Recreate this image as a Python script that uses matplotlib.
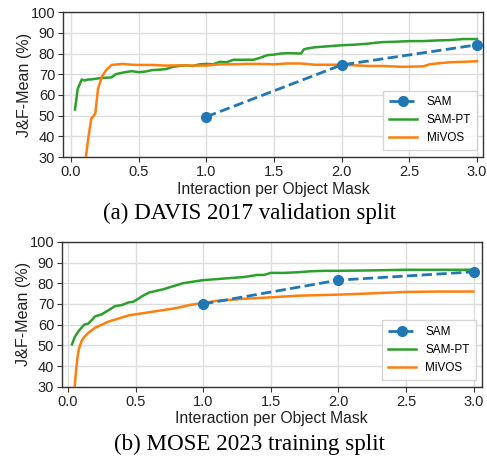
import matplotlib
matplotlib.use("Agg")
import matplotlib.pyplot as plt

# ---- Data: DAVIS 2017 validation ----
davis_sam_x = [1.0, 2.0, 3.0]
davis_sam_y = [49.5, 74.5, 84.2]
davis_pt_x = [0.03, 0.05, 0.08, 0.10, 0.13, 0.15, 0.18, 0.20, 0.25, 0.30, 0.33, 0.36, 0.40, 0.45, 0.50,
              0.55, 0.60, 0.65, 0.70, 0.75, 0.80, 0.85, 0.90, 0.95, 1.00, 1.05, 1.10, 1.15, 1.20,
              1.30, 1.35, 1.40, 1.45, 1.50, 1.55, 1.60, 1.70, 1.72, 1.75, 1.80, 1.90, 2.00, 2.10,
              2.20, 2.25, 2.30, 2.40, 2.50, 2.60, 2.70, 2.80, 2.90, 3.00]
davis_pt_y = [53.0, 63.0, 67.5, 67.0, 67.5, 67.5, 67.8, 68.0, 68.3, 68.5, 70.0, 70.5, 71.0, 71.5, 71.0,
              71.3, 72.0, 72.2, 72.5, 73.5, 74.0, 74.3, 74.0, 74.8, 75.0, 74.8, 76.0, 75.8, 77.0,
              77.0, 77.0, 78.0, 79.2, 79.5, 80.0, 80.2, 80.0, 82.0, 82.5, 83.0, 83.5, 84.0, 84.3,
              84.8, 85.2, 85.5, 85.7, 86.0, 86.0, 86.3, 86.5, 87.0, 87.0]
davis_mivos_x = [0.11, 0.13, 0.15, 0.18, 0.20, 0.23, 0.26, 0.30, 0.35, 0.38, 0.45, 0.50, 0.60, 0.70,
                 0.80, 0.90, 1.00, 1.10, 1.20, 1.30, 1.40, 1.50, 1.60, 1.70, 1.80, 1.90, 2.00,
                 2.10, 2.20, 2.30, 2.45, 2.60, 2.65, 2.70, 2.80, 2.90, 3.00]
davis_mivos_y = [30.0, 40.0, 48.5, 51.0, 63.0, 69.0, 72.0, 74.5, 74.8, 75.0, 74.6, 74.5, 74.5, 74.2,
                 74.3, 74.2, 74.2, 74.8, 74.8, 75.0, 75.0, 74.8, 75.2, 75.2, 74.6, 74.6, 74.6,
                 74.3, 74.0, 74.0, 73.6, 73.8, 74.8, 75.2, 75.8, 76.0, 76.3]

# ---- Data: MOSE 2023 training ----
mose_sam_x = [1.0, 2.0, 3.0]
mose_sam_y = [70.0, 81.5, 85.5]
mose_pt_x = [0.03, 0.05, 0.08, 0.10, 0.12, 0.15, 0.18, 0.20, 0.25, 0.30, 0.35, 0.40, 0.45, 0.48,
             0.52, 0.55, 0.60, 0.65, 0.70, 0.75, 0.80, 0.85, 0.90, 0.95, 1.00, 1.10, 1.20, 1.30,
             1.35, 1.40, 1.45, 1.50, 1.60, 1.70, 1.80, 1.90, 2.00, 2.25, 2.50, 2.75, 3.00]
mose_pt_y = [50.5, 54.0, 57.0, 58.5, 60.0, 60.5, 62.5, 64.0, 65.0, 67.0, 69.0, 69.5, 70.8, 71.0,
             72.5, 73.8, 75.5, 76.3, 77.0, 78.0, 79.0, 80.0, 80.5, 81.0, 81.5, 82.0, 82.5, 83.0,
             83.5, 84.0, 84.0, 85.0, 85.0, 85.3, 85.8, 86.0, 86.0, 86.2, 86.5, 86.5, 86.5]
mose_mivos_x = [0.05, 0.06, 0.07, 0.08, 0.10, 0.12, 0.15, 0.18, 0.20, 0.25, 0.30, 0.35, 0.40, 0.45,
                0.50, 0.55, 0.60, 0.70, 0.80, 0.90, 1.00, 1.10, 1.20, 1.30, 1.50, 1.70, 2.00,
                2.20, 2.50, 2.75, 3.00]
mose_mivos_y = [30.0, 38.0, 44.0, 48.0, 52.0, 54.0, 56.0, 57.5, 58.5, 60.0, 61.5, 62.5, 63.5, 64.5,
                65.0, 65.5, 66.0, 67.0, 68.0, 69.5, 70.5, 71.5, 72.0, 72.5, 73.2, 74.0, 74.5,
                75.0, 75.8, 76.0, 76.0]

yticks = [30, 40, 50, 60, 70, 80, 90, 100]
xticks = [0.0, 0.5, 1.0, 1.5, 2.0, 2.5, 3.0]
captions = ["(a) DAVIS 2017 validation split", "(b) MOSE 2023 training split"]

plt.rcParams['font.family'] = ['Liberation Sans', 'DejaVu Sans']

fig = plt.figure(figsize=(4.87, 4.65), dpi=100)
ax1 = fig.add_axes([0.129, 0.662, 0.863, 0.312])
ax2 = fig.add_axes([0.127, 0.168, 0.862, 0.312])

blue, green, orange = '#1f77b4', '#2ca02c', '#ff7f0e'

def style(ax, xlim):
    ax.set_xlim(*xlim)
    ax.set_ylim(30, 100)
    ax.set_xticks(xticks)
    ax.set_yticks(yticks)
    ax.grid(True, color='#dddddd', linewidth=1.0)
    ax.set_axisbelow(True)
    for s in ax.spines.values():
        s.set_color('#333333')
        s.set_linewidth(1.0)
    ax.tick_params(direction='out', length=3.5, width=0.8, color='#333333', labelsize=10.5,
                   labelcolor='#222222', pad=2)
    ax.set_xlabel('Interaction per Object Mask', fontsize=11.3, labelpad=2, color='#222222')
    ax.set_ylabel('J&F-Mean (%)', fontsize=11.6, labelpad=-1, color='#222222')
    ax.legend(loc='lower right', bbox_to_anchor=(0.986, 0.048), borderaxespad=0, fontsize=8.5,
              frameon=True, fancybox=False, edgecolor='#cccccc', handlelength=2.4,
              borderpad=0.5, labelspacing=0.5)

for ax, sx, sy, px, py, mx, my, xl in [
    (ax1, davis_sam_x, davis_sam_y, davis_pt_x, davis_pt_y, davis_mivos_x, davis_mivos_y, (-0.06, 3.045)),
    (ax2, mose_sam_x, mose_sam_y, mose_pt_x, mose_pt_y, mose_mivos_x, mose_mivos_y, (-0.045, 3.06)),
]:
    ax.plot(sx, sy, '--o', color=blue, lw=2.0, markersize=7, label='SAM', zorder=4, clip_on=False)
    ax.plot(px, py, '-', color=green, lw=1.8, label='SAM-PT', zorder=3)
    ax.plot(mx, my, '-', color=orange, lw=1.8, label='MiVOS', zorder=3)
    style(ax, xl)

fig.text(0.513, 0.542, captions[0], ha='center', va='center', fontsize=16.6, family='Liberation Serif')
fig.text(0.513, 0.045, captions[1], ha='center', va='center', fontsize=16.6, family='Liberation Serif')

fig.savefig('out.png', dpi=100)
